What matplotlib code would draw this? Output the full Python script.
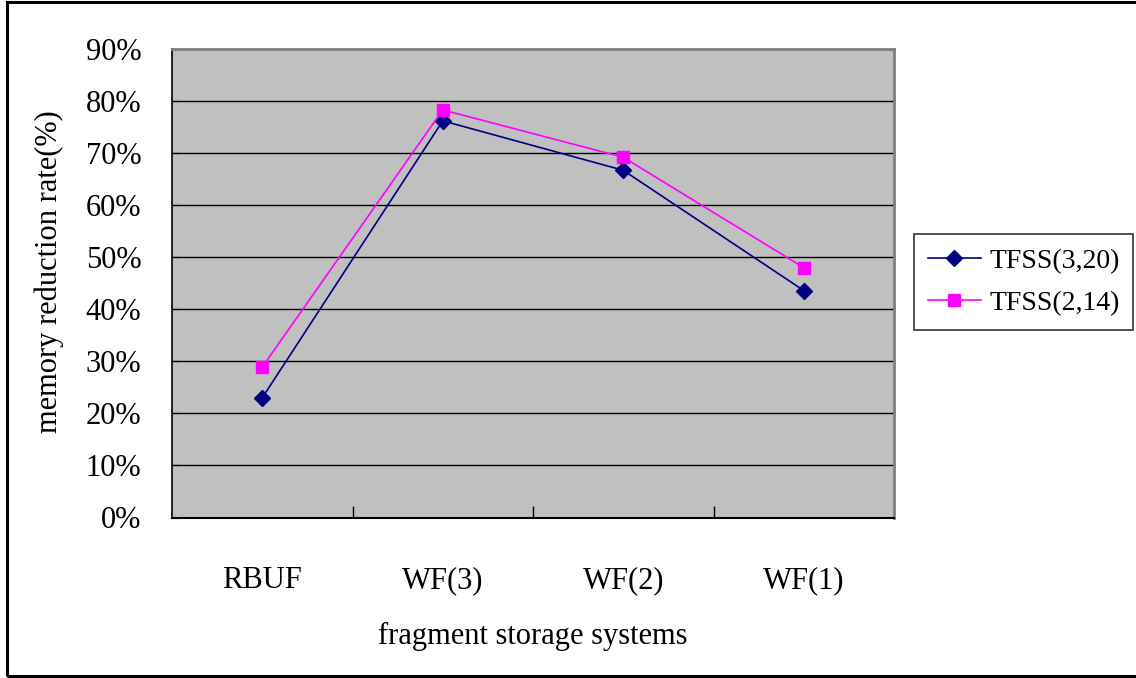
import numpy as np
import matplotlib.pyplot as plt
from matplotlib.patches import Rectangle

systems = ['RBUF', 'WF(3)', 'WF(2)', 'WF(1)']
tfss_3_20 = [23.0, 76.2, 66.7, 43.6]
tfss_2_14 = [28.9, 78.3, 69.2, 48.0]
yticks = [0, 10, 20, 30, 40, 50, 60, 70, 80, 90]

plt.rcParams['font.family'] = ['Liberation Serif', 'DejaVu Serif']

fig = plt.figure(figsize=(11.36, 6.78), dpi=100)
ax = fig.add_axes([172 / 1136, 1 - 517.5 / 678, (894 - 172) / 1136, (517.5 - 49) / 678])

# outer chart frame (right edge runs off the image)
fig.patches.append(Rectangle((6.5 / 1136, 2 / 678), 1.2, 674 / 678, transform=fig.transFigure,
                             fill=False, edgecolor='black', linewidth=2.2, zorder=0))

ax.set_facecolor('#C0C0C0')
x = np.arange(len(systems))
ax.plot(x, tfss_3_20, color='#000080', lw=1.2, marker='D', ms=8.5, label='TFSS(3,20)', zorder=3)
ax.plot(x, tfss_2_14, color='#FF00FF', lw=1.2, marker='s', ms=9, label='TFSS(2,14)', zorder=3)

ax.set_xlim(-0.5, len(systems) - 0.5)
ax.set_ylim(0, 90)
ax.set_yticks(yticks)
ax.set_yticklabels([f'{v}%' for v in yticks])
ax.yaxis.grid(True, color='black', lw=1.0)
ax.set_axisbelow(True)

ax.set_xticks(x)
ax.set_xticklabels(systems)
ax.set_xticks(np.arange(0.5, len(systems) - 0.5, 1), minor=True)
ax.tick_params(axis='x', which='major', length=0, pad=35, labelsize=22)
ax.tick_params(axis='x', which='minor', direction='in', length=9, width=1, color='black')
ax.tick_params(axis='y', direction='in', length=5, pad=22, labelsize=22)

for s in ['top', 'right']:
    ax.spines[s].set_color('#808080')
    ax.spines[s].set_linewidth(2)
ax.spines['left'].set_color('black')
ax.spines['bottom'].set_color('black')
ax.spines['left'].set_linewidth(1.2)
ax.spines['bottom'].set_linewidth(1.5)

ax.set_xlabel('fragment storage systems', fontsize=22, labelpad=19)
ax.set_ylabel('memory reduction rate(%)', fontsize=22)
ax.yaxis.set_label_coords(-0.15, 0.524)

leg = ax.legend(loc='center left', bbox_to_anchor=(914 / 1136, 1 - 282 / 678),
                bbox_transform=fig.transFigure, fontsize=20, frameon=True, fancybox=False,
                borderpad=0.5, handlelength=1.9, handletextpad=0.3, labelspacing=0.6,
                borderaxespad=0)
leg.get_frame().set_edgecolor('black')
leg.get_frame().set_linewidth(1.2)

fig.savefig('out.png', dpi=100)
